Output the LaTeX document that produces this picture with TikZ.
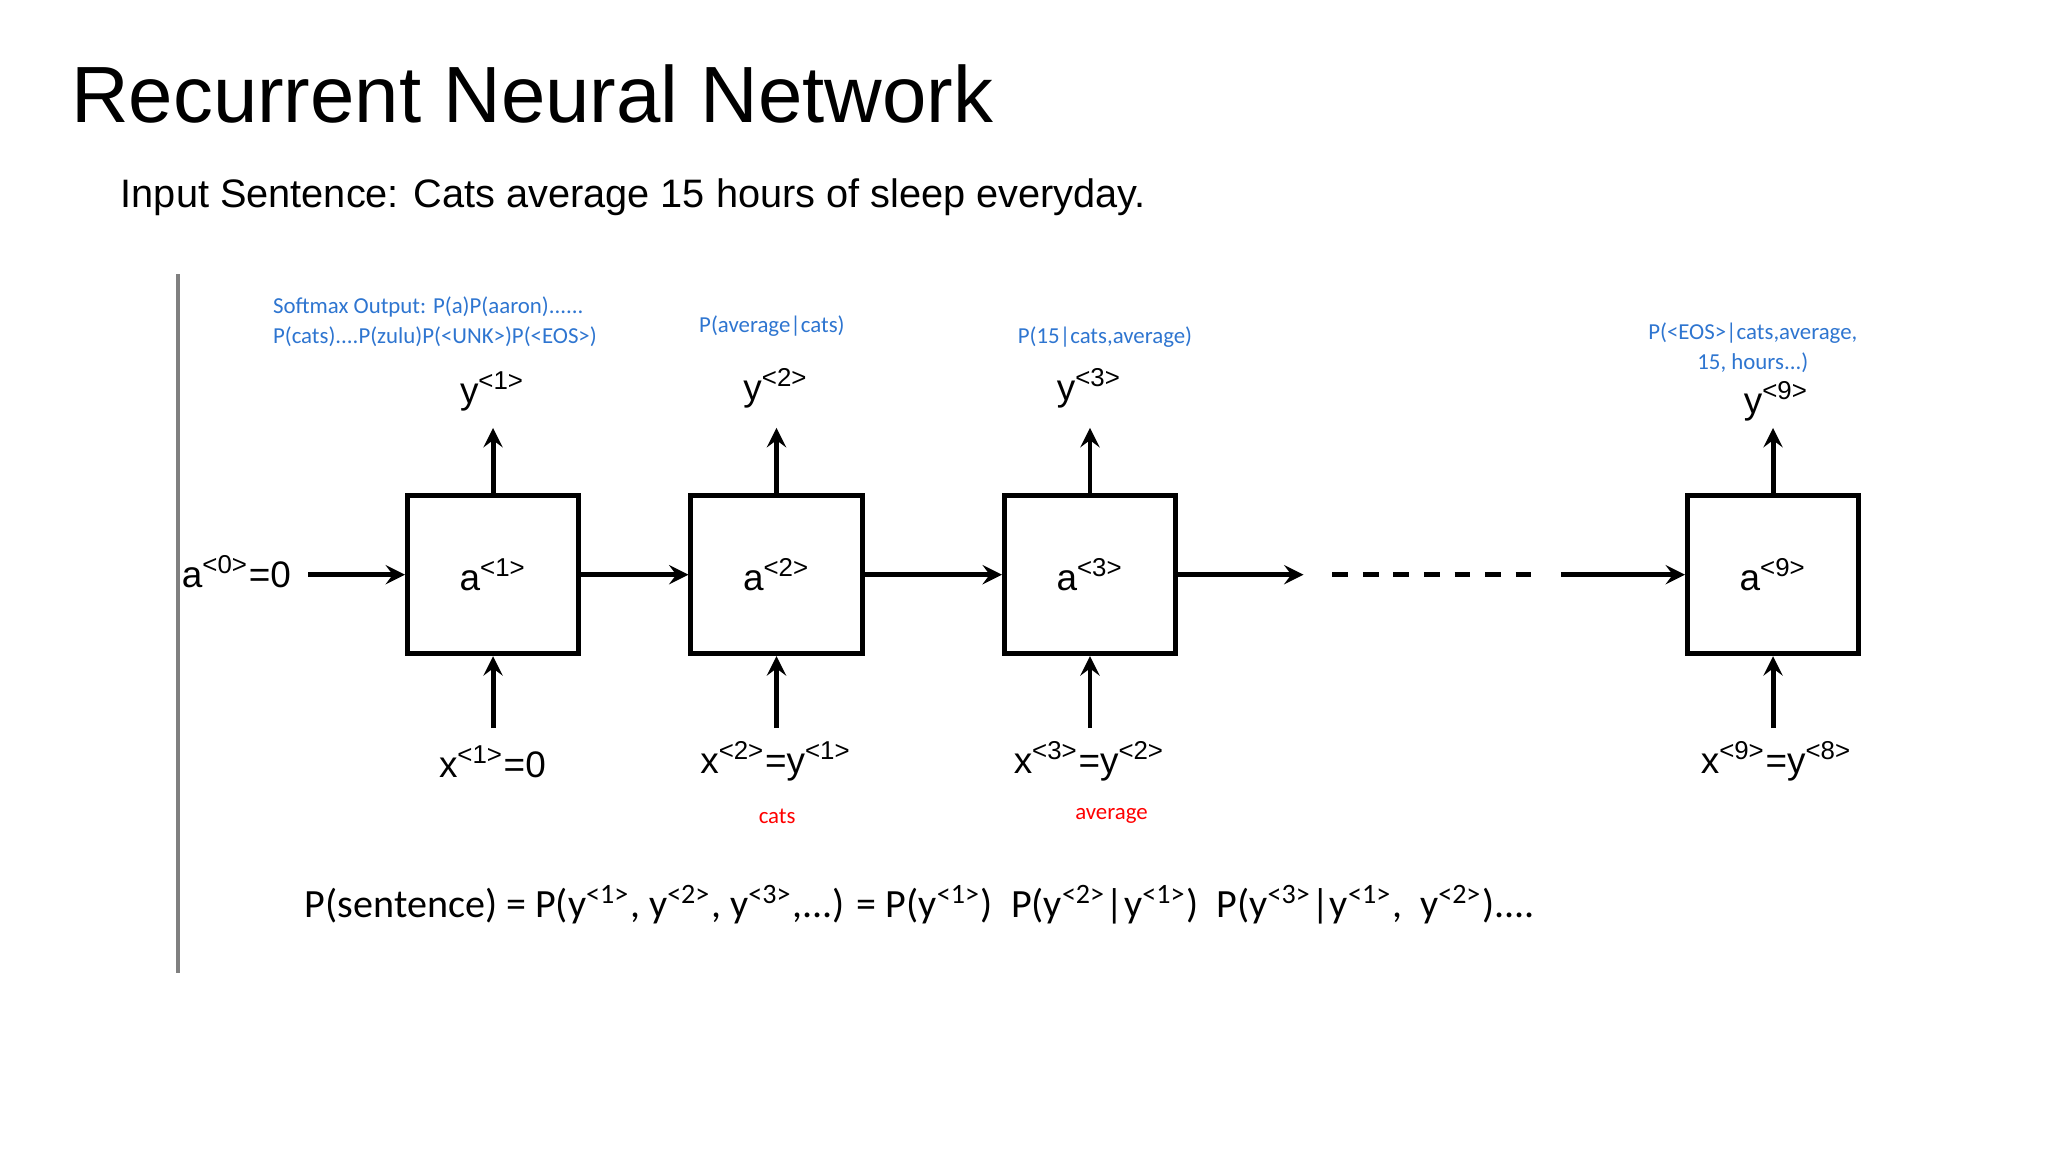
\documentclass[tikz,border=0pt]{standalone}
\usepackage{fontspec}
\setmainfont{Liberation Sans}
\newfontfamily\calfont{Carlito}
\definecolor{lblue}{HTML}{2E75D0}
\begin{document}
\begin{tikzpicture}[x=0.013061cm,y=-0.013061cm,
 cell/.style={draw,line width=1.4pt,minimum width=131*0.013061cm,minimum height=121*0.013061cm,inner sep=0,font=\fontsize{10.5}{12}\selectfont},
 arr/.style={-stealth,line width=1.4pt},
 lbl/.style={font=\fontsize{10.5}{12}\selectfont,inner sep=1pt},
 blue/.style={text=lblue,font=\calfont\fontsize{6.5}{8.5}\selectfont,align=center},
 red/.style={text=red,font=\calfont\fontsize{6.5}{8}\selectfont}]
\useasboundingbox (0,0) rectangle (1568,882);
\node[anchor=west,font=\fontsize{22.7}{27}\selectfont] (title) at (45,72) {Recurrent Neural Network};
\node[anchor=west,font=\fontsize{11.3}{14}\selectfont] (sub) at (83,151) {Input Sentence: Cats average 15 hours of sleep everyday.};
\draw[gray,line width=1.2pt] (136,210) coordinate (v1) -- (136,745) coordinate (v2);
\node[cell] (b1) at (377.5,440) {a\textsuperscript{<1>}};
\node[cell] (b2) at (594.5,440) {a\textsuperscript{<2>}};
\node[cell] (b3) at (834.5,440) {a\textsuperscript{<3>}};
\node[cell] (b4) at (1357.5,440) {a\textsuperscript{<9>}};
\node[lbl] (a0) at (181,438) {a\textsuperscript{<0>}=0};
\coordinate (d1) at (998,440); \coordinate (d2) at (1195,440);
\draw[arr] (236,440) -- (b1);
\draw[arr] (b1) -- (b2);
\draw[arr] (b2) -- (b3);
\draw[arr] (b3) -- (d1);
\draw[line width=1.4pt,dash pattern=on 4.5pt off 4.2pt] (1020,440) -- (1172,440);
\draw[arr] (d2) -- (b4);
\foreach \b/\yl/\xl/\xx/\yy in {b1/{y\textsuperscript{<1>}}/{x\textsuperscript{<1>}=0}/377/300, b2/{y\textsuperscript{<2>}}/{x\textsuperscript{<2>}=y\textsuperscript{<1>}}/594/297, b3/{y\textsuperscript{<3>}}/{x\textsuperscript{<3>}=y\textsuperscript{<2>}}/834/297, b4/{y\textsuperscript{<9>}}/{x\textsuperscript{<9>}=y\textsuperscript{<8>}}/1360/307}{
 \node[lbl] (y\b) at (\xx,\yy) {\yl};
 \draw[arr] (\b.north) -- ++(0,-50);
 \node[lbl] (x\b) at (\xx,583) {\xl};
 \draw[arr] (\b.south) ++(0,55) -- ++(0,-55);
}
\node[blue,align=left] (s1) at (333,246) {Softmax Output: P(a)P(aaron)......\\P(cats)....P(zulu)P(<UNK>)P(<EOS>)};
\node[blue] (s2) at (591,250) {P(average|cats)};
\node[blue] (s3) at (846,258) {P(15|cats,average)};
\node[blue] (s4) at (1342,266) {P(<EOS>|cats,average,\\15, hours...)};
\node[red] (r2) at (595,625) {cats};
\node[red] (r3) at (851,625) {average};
\node[anchor=west,font=\calfont\fontsize{11.4}{13}\selectfont] (ps) at (224,693) {P(sentence) = P(y\textsuperscript{<1>}, y\textsuperscript{<2>}, y\textsuperscript{<3>},...) = P(y\textsuperscript{<1>})\ \ P(y\textsuperscript{<2>}|y\textsuperscript{<1>})\ \ P(y\textsuperscript{<3>}|y\textsuperscript{<1>},\ \ y\textsuperscript{<2>})....};
\end{tikzpicture}
\end{document}
